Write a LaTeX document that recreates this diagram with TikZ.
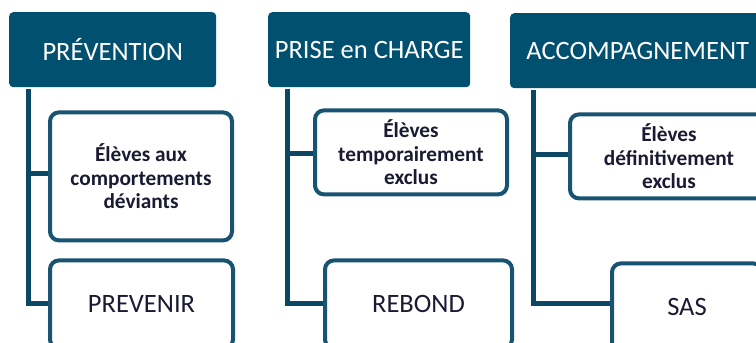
\documentclass[tikz,border=0pt]{standalone}
\usepackage{fontspec}
\setmainfont{Carlito}
\usepackage{xcolor}
\usetikzlibrary{positioning}

\definecolor{headblue}{RGB}{2,80,111}
\definecolor{framblue}{RGB}{24,84,114}
\definecolor{linkblue}{RGB}{12,72,102}
\definecolor{inkdark}{RGB}{26,26,50}

\begin{document}
\begin{tikzpicture}[
          x=1pt, y=-1pt,
          head/.style={rectangle, rounded corners=4pt, fill=headblue, text=white,
            anchor=north west, minimum height=75pt,
            font=\fontsize{26.5}{30}\selectfont},
          subbox/.style={rectangle, rounded corners=9pt, draw=framblue, line width=4pt,
            fill=white, text=inkdark, align=center, anchor=north west,
            font=\bfseries\fontsize{21.3}{23.5}\selectfont},
          leafbox/.style={subbox, font=\fontsize{26.5}{30}\selectfont},
          link/.style={draw=linkblue, line width=5pt}
        ]
          \useasboundingbox (0,0) rectangle (756,343);
          \clip (0,0) rectangle (756,343);
          \fill[white] (0,0) rectangle (756,343);

          % headers
          \node[head, minimum width=207pt] (prev) at (9,12) {PRÉVENTION};
          \node[head, minimum width=202pt] (prise) at (268,12) {PRISE en CHARGE};
          \node[head, minimum width=255pt] (accomp) at (510,13) {ACCOMPAGNEMENT};

          % connectors
          \draw[link] ([xshift=19pt, yshift=-2pt]prev.south west) |- (48,303);
          \draw[link] ([xshift=19pt]prev.south west |- 0,173) -- (48,173);
          \draw[link] ([xshift=19pt, yshift=-2pt]prise.south west) |- (323,303);
          \draw[link] ([xshift=19pt]prise.south west |- 0,153) -- (313,153);
          \draw[link] ([xshift=23pt, yshift=-2pt]accomp.south west) |- (610,303);
          \draw[link] ([xshift=23pt]accomp.south west |- 0,154) -- (568,154);

          % children
          \node[subbox, minimum width=182pt, minimum height=128pt,
            below right=23pt and 39pt of prev.south west] (deviants)
            {Élèves aux\\comportements\\déviants};
          \node[leafbox, minimum width=183pt, minimum height=88pt,
            below right=171pt and 39pt of prev.south west] (prevenir) {PREVENIR};

          \node[subbox, minimum width=192pt, minimum height=84pt,
            below right=21pt and 45pt of prise.south west] (tempo)
            {Élèves\\temporairement\\exclus};
          \node[leafbox, minimum width=187pt, minimum height=88pt,
            below right=171pt and 55pt of prise.south west] (rebond) {REBOND};

          \node[subbox, minimum width=198pt, minimum height=84pt,
            below right=24pt and 58pt of accomp.south west] (defin)
            {Élèves\\définitivement\\exclus};
          \node[leafbox, minimum width=150pt, minimum height=88pt,
            below right=173pt and 100pt of accomp.south west] (sas) {SAS};
        \end{tikzpicture}
\end{document}
